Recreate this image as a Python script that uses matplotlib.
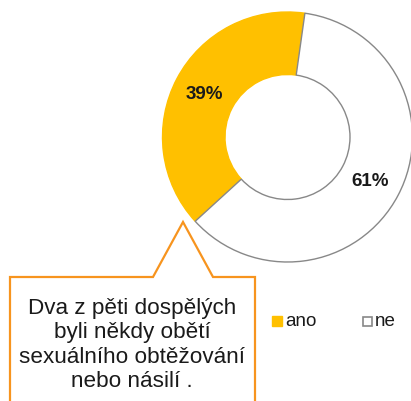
import matplotlib
matplotlib.use("Agg")
import matplotlib.pyplot as plt
from matplotlib.patches import Polygon, Rectangle

plt.rcParams["font.family"] = ["Liberation Sans", "DejaVu Sans"]

# data
labels = ["ano", "ne"]
values = [39, 61]
colors = ["#FFC000", "#FFFFFF"]
callout = "Dva z pěti dospělých\nbyli někdy obětí\nsexuálního obtěžování\nnebo násilí ."

W, H = 411, 402
fig = plt.figure(figsize=(W / 100, H / 100), dpi=100)
ax = fig.add_axes([0, 0, 1, 1])

# donut (pixel-like coords, y up)
cx, cy, R = 287.5, H - 138, 125
wedges, _, pcts = ax.pie(values, colors=colors, startangle=82, counterclock=True,
                         center=(cx, cy), radius=R, autopct="%d%%", pctdistance=0.75,
                         wedgeprops=dict(width=R * 0.5, edgecolor="#888888", linewidth=1.0),
                         textprops=dict(fontsize=13.5, fontweight="bold", color="#1a1a1a"))
wedges[0].set_edgecolor("#FFC000")
wedges[0].set_zorder(1)
wedges[1].set_zorder(2)

# callout box with pointer
box_col = "#F7941E"
pts = [(10, H - 278), (153, H - 278), (183, H - 223), (213, H - 278), (255, H - 278),
       (255, -5), (10, -5)]
ax.add_patch(Polygon(pts, closed=True, facecolor="white", edgecolor=box_col, lw=1.6, zorder=3))
ax.text(132, H - 345, callout, ha="center", va="center", fontsize=16.2,
        linespacing=1.2, color="#1a1a1a", zorder=4)

# legend
ax.add_patch(Rectangle((272, H - 327), 10, 10, facecolor=colors[0], edgecolor=colors[0], zorder=3))
ax.text(285, H - 322, labels[0], ha="left", va="center", fontsize=13.5, color="#1a1a1a")
ax.add_patch(Rectangle((362.5, H - 326.5), 9, 9, facecolor=colors[1], edgecolor="#888888", lw=1.2, zorder=3))
ax.text(375, H - 322, labels[1], ha="left", va="center", fontsize=13.5, color="#1a1a1a")

ax.set_xlim(0, W)
ax.set_ylim(0, H)
ax.set_aspect("auto")
ax.axis("off")
fig.savefig("out.png", dpi=100)
